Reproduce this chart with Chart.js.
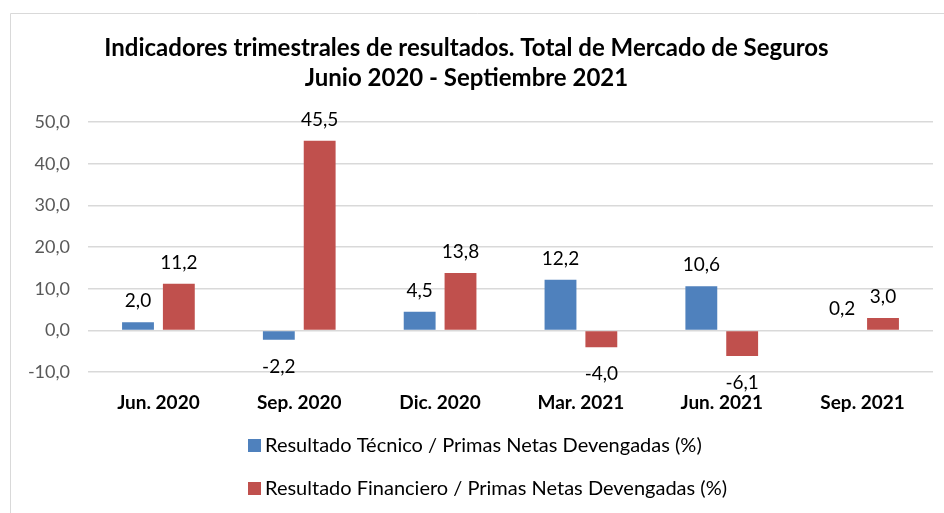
<!DOCTYPE html>
<html>
<head>
<meta charset="utf-8">
<script src="https://cdn.jsdelivr.net/npm/chart.js@4/dist/chart.umd.min.js"></script>
<style>
  html, body { margin: 0; padding: 0; background: #fff; }
  #wrap { width: 944px; height: 513px; }
</style>
</head>
<body>
<div id="wrap"><canvas id="indicadoresChart" width="944" height="513"></canvas></div>
<script>
// indicadores trimestrales

const quarters = ["Jun. 2020", "Sep. 2020", "Dic. 2020", "Mar. 2021", "Jun. 2021", "Sep. 2021"];
const resultadoTecnico = [2.0, -2.2, 4.5, 12.2, 10.6, 0.2];
const resultadoFinanciero = [11.2, 45.5, 13.8, -4.0, -6.1, 3.0];
const seriesNames = [
  "Resultado Técnico / Primas Netas Devengadas (%)",
  "Resultado Financiero / Primas Netas Devengadas (%)"
];
const titleLines = [
  "Indicadores trimestrales de resultados. Total de Mercado de Seguros",
  "Junio 2020 - Septiembre 2021"
];
const yMin = -10, yMax = 50, yStep = 10;

const FONT = "Lato, 'Noto Sans', sans-serif";
const fmt = v => v.toFixed(1).replace(".", ",");

// thin grey frame like the spreadsheet chart box
const framePlugin = {
  id: "frame",
  beforeDraw(chart) {
    const ctx = chart.ctx;
    ctx.save();
    ctx.strokeStyle = "#d9d9d9";
    ctx.lineWidth = 1;
    ctx.beginPath();
    ctx.moveTo(10.5, chart.height);
    ctx.lineTo(10.5, 13.5);
    ctx.lineTo(chart.width, 13.5);
    ctx.stroke();
    ctx.restore();
  }
};

// value labels above / below each bar
const valueLabels = {
  id: "valueLabels",
  afterDatasetsDraw(chart) {
    const ctx = chart.ctx;
    ctx.save();
    ctx.font = "19px " + FONT;
    ctx.fillStyle = "#000";
    ctx.textAlign = "center";
    ctx.textBaseline = "middle";
    chart.data.datasets.forEach((ds, i) => {
      chart.getDatasetMeta(i).data.forEach((bar, j) => {
        const v = ds.data[j];
        const y = v >= 0 ? bar.y - 21 : bar.y + 27;
        ctx.fillText(fmt(v), bar.x, y);
      });
    });
    ctx.restore();
  }
};

// stacked legend, left aligned
const stackedLegend = {
  id: "stackedLegend",
  afterDraw(chart) {
    const ctx = chart.ctx;
    ctx.save();
    ctx.font = "20px " + FONT;
    ctx.textBaseline = "middle";
    const rows = [446, 489];
    chart.data.datasets.forEach((ds, i) => {
      const y = rows[i];
      ctx.fillStyle = ds.backgroundColor;
      ctx.fillRect(248, y - 7, 13, 13);
      ctx.fillStyle = "#000";
      ctx.fillText(ds.label, 265, y);
    });
    ctx.restore();
  }
};

const ctx = document.getElementById("indicadoresChart").getContext("2d");

new Chart(ctx, {
  type: "bar",
  data: {
    labels: quarters,
    datasets: [
      { label: seriesNames[0], data: resultadoTecnico, backgroundColor: "#4F81BD" },
      { label: seriesNames[1], data: resultadoFinanciero, backgroundColor: "#C0504D" }
    ]
  },
  options: {
    responsive: false,
    animation: false,
    categoryPercentage: 0.58,
    barPercentage: 0.78,
    layout: { padding: { left: 0, right: 11, top: 0, bottom: 88 } },
    plugins: {
      legend: { display: false },
      tooltip: { enabled: false },
      title: {
        display: true,
        text: titleLines,
        color: "#000",
        font: { family: FONT, size: 24, weight: "bold", lineHeight: 1.25 },
        padding: { top: 33, bottom: 29 }
      }
    },
    scales: {
      x: {
        grid: { display: false },
        border: { display: false },
        ticks: {
          color: "#000",
          padding: 11,
          font: { family: FONT, size: 19, weight: "bold" }
        }
      },
      y: {
        min: yMin,
        max: yMax,
        afterFit(scale) { scale.width = 88; },
        grid: { color: "#d9d9d9", lineWidth: 1.5, drawTicks: false },
        border: { display: false },
        ticks: {
          stepSize: yStep,
          color: "#595959",
          padding: 18,
          font: { family: FONT, size: 18 },
          callback: v => fmt(v)
        }
      }
    }
  },
  plugins: [framePlugin, valueLabels, stackedLegend]
});
</script>
</body>
</html>
